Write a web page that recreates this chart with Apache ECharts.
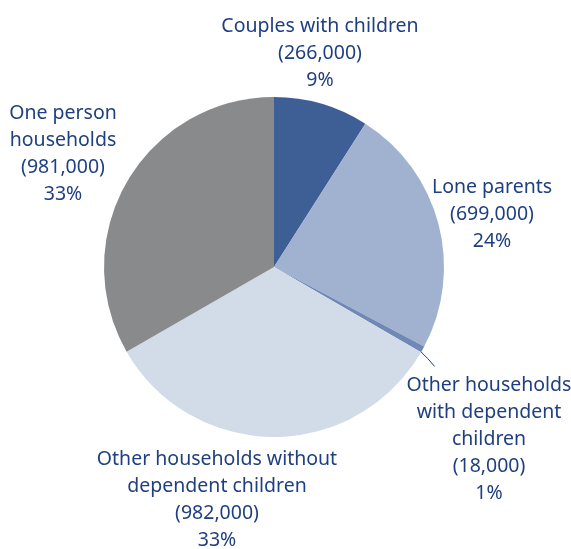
<!DOCTYPE html>
<html><head><meta charset="utf-8">
<script src="https://cdn.jsdelivr.net/npm/echarts@6/dist/echarts.min.js"></script>
<style>html,body{margin:0;padding:0;background:#fff}#c{width:571px;height:549px}</style>
</head><body><div id="c"></div>
<script>
const categories = ["Couples with children", "Lone parents", "Other households\nwith dependent\nchildren", "Other households without\ndependent children", "One person\nhouseholds"];
const values = [266000, 699000, 18000, 982000, 981000];
const percents = [9, 24, 1, 33, 33];
const colors = ["#3e5f95", "#a0b2cf", "#6f88b5", "#d2dbe8", "#898a8c"];
const labelPos = [[320, 53], [492, 214], [489, 439], [217, 500], [63, 154]];

const fmt = n => n.toLocaleString('en-US');
const CX = 274, CY = 267, R = 170;
const total = values.reduce((a, b) => a + b, 0);
function midAngle(i) {
  let before = 0;
  for (let k = 0; k < i; k++) before += values[k];
  return (before + values[i] / 2) / total * 2 * Math.PI;
}
const chart = echarts.init(document.getElementById('c'), null, {renderer: 'canvas'});
chart.setOption({
  animation: false,
  series: [{
    type: 'pie',
    center: [CX, CY],
    radius: R,
    startAngle: 90,
    clockwise: true,
    data: categories.map((c, i) => ({
      name: c, value: values[i],
      itemStyle: {color: colors[i]},
      labelLine: {show: i === 2, smooth: false, length: 6, length2: 0, lineStyle: {color: '#1f3c7a', width: 1}}
    })),
    label: {
      show: true,
      formatter: p => p.name + '\n(' + fmt(p.value) + ')\n' + percents[p.dataIndex] + '%',
      color: '#1f3f80',
      fontFamily: 'Noto Sans',
      fontSize: 19.5,
      lineHeight: 27,
      align: 'center',
      overflow: 'none',
      width: 300
    },
    labelLayout: p => {
      const i = p.dataIndex;
      const o = {x: labelPos[i][0], y: labelPos[i][1], align: 'center', verticalAlign: 'middle'};
      if (i === 2) {
        const a = midAngle(i);
        const sx = CX + R * Math.sin(a), sy = CY - R * Math.cos(a);
        o.labelLinePoints = [[sx - 2, sy + 2], [sx + 5, sy + 9], [sx + 12, sy + 17]];
      }
      return o;
    },
    itemStyle: {borderWidth: 0}
  }]
});
</script></body></html>
